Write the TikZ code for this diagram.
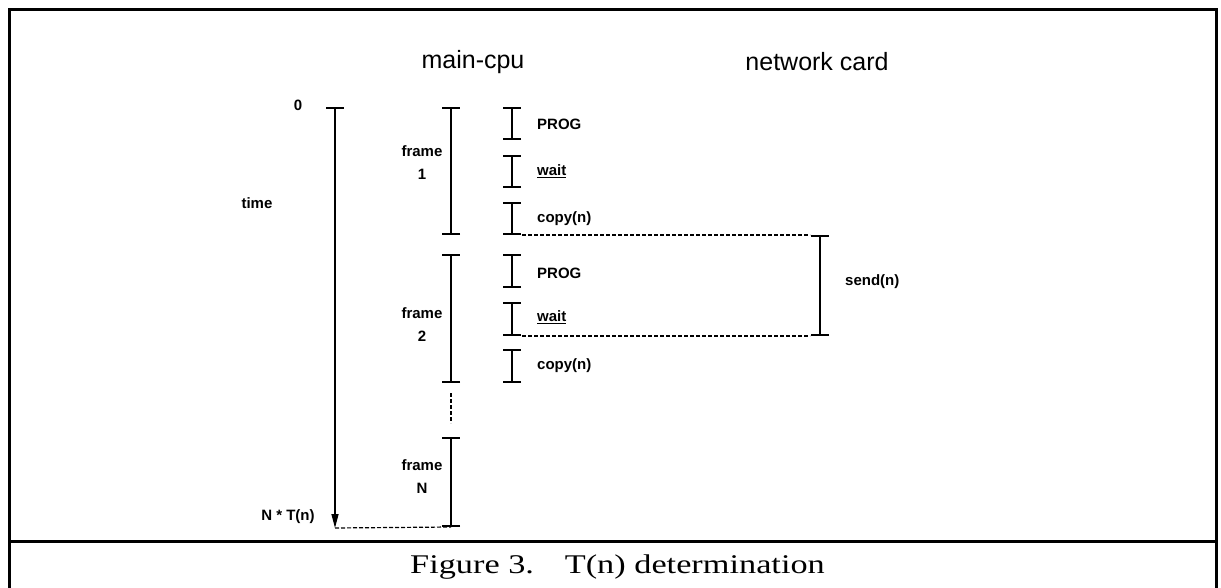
\documentclass[tikz,border=0pt]{standalone}
\usepackage{fontspec}
\setmainfont{Liberation Serif}
\newfontfamily\helv{Liberation Sans}
\usetikzlibrary{arrows.meta}

\begin{document}
\begin{tikzpicture}[
  x=1pt, y=-1pt, >=Stealth,
  ibar/.style={line width=1.4pt, {Bar[width=18pt,line width=2pt]}-{Bar[width=18pt,line width=2pt]}},
  tline/.style={line width=1.4pt, {Bar[width=18pt,line width=2pt]}-{Triangle[length=14pt,width=7pt]}},
  dline/.style={dashed, dash pattern=on 4pt off 2pt, line width=1.2pt},
  lbl/.style={font=\helv\bfseries\fontsize{15}{18}\selectfont, inner sep=0pt},
  tlbl/.style={lbl, align=center},
  head/.style={font=\helv\fontsize{25}{30}\selectfont, inner sep=0pt},
  frameline/.style={line width=3pt}
]
\useasboundingbox (0,0) rectangle (1221,588);

% outer frame and caption rule
\draw[frameline] (9,588) -- (9,10) -- (1216,10) -- (1216,588);
\draw[frameline] (9,541) -- (1216,541);
\node[inner sep=0pt, anchor=base west, font=\fontsize{27}{30}\selectfont] (caption) at (410,573)
  {\scalebox{1.27}[1]{Figure 3.\hspace{0.9em}T(n) determination}};

% headings
\node[head] (cpu) at (473,62) {main-cpu};
\node[head] (card) at (817,62) {network card};

% time axis
\coordinate (t0) at (335,107);
\coordinate (tN) at (335,528);
\draw[tline] (t0) -- (tN);
\node[lbl] (zero) at (298,105) {0};
\node[lbl] (time) at (257,203) {time};
\node[lbl] (ntn) at (288,517) {N * T(n)};

% frames
\coordinate (f1t) at (451,107);
\coordinate (f1b) at (451,235);
\coordinate (f2t) at (451,254);
\coordinate (f2b) at (451,383);
\coordinate (fNt) at (451,437);
\coordinate (fNb) at (451,527);
\draw[ibar] (f1t) -- (f1b);
\draw[ibar] (f2t) -- (f2b);
\draw[ibar] (fNt) -- (fNb);
\coordinate (g1) at (451,393);
\coordinate (g2) at (451,423);
\draw[dline] (g1) -- (g2);
\node[tlbl] (fr1) at (422,163) {frame\\[5pt]1};
\node[tlbl] (fr2) at (422,325) {frame\\[5pt]2};
\node[tlbl] (frN) at (422,477) {frame\\[5pt]N};
\draw[dline] (tN) -- (fNb);

% steps inside frames 1 and 2
\foreach \k/\ya/\yb/\yc/\yd/\ye/\yf in {1/107/140/155/188/202/235, 2/254/288/302/336/349/383}{
  \coordinate (p\k t) at (512,\ya);
  \coordinate (p\k b) at (512,\yb);
  \coordinate (w\k t) at (512,\yc);
  \coordinate (w\k b) at (512,\yd);
  \coordinate (c\k t) at (512,\ye);
  \coordinate (c\k b) at (512,\yf);
  \draw[ibar] (p\k t) -- (p\k b);
  \draw[ibar] (w\k t) -- (w\k b);
  \draw[ibar] (c\k t) -- (c\k b);
}
\node[lbl, anchor=west] (prog1) at (537,124) {PROG};
\node[lbl, anchor=west] (wait1) at (537,171) {\underline{wait}};
\node[lbl, anchor=west] (copy1) at (537,219) {copy(n)};
\node[lbl, anchor=west] (prog2) at (537,273) {PROG};
\node[lbl, anchor=west] (wait2) at (537,317) {\underline{wait}};
\node[lbl, anchor=west] (copy2) at (537,366) {copy(n)};

% send on the network card
\coordinate (st) at (820,235);
\coordinate (sb) at (820,336);
\draw[ibar] (st) -- (sb);
\node[lbl, anchor=west] (send) at (845,282) {send(n)};
\draw[dline] ([xshift=10pt]c1b) -- ([xshift=-10pt]st);
\draw[dline] ([xshift=10pt]w2b) -- ([xshift=-10pt]sb);

\end{tikzpicture}
\end{document}
